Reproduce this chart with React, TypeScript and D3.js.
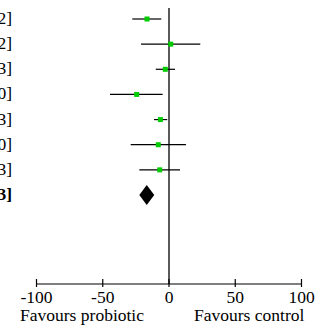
import React from 'react';
import * as d3 from 'd3';

// study rows (mean difference with 95% CI), last row is the pooled estimate
const labels = [
  '-16.60 [-27.70, -5.82]',
  '1.30 [-21.10, 23.62]',
  '-2.80 [-10.00, 4.53]',
  '-24.40 [-44.50, -4.80]',
  '-6.50 [-11.30, -1.33]',
  '-8.10 [-28.90, 12.80]',
  '-7.00 [-22.40, 8.33]',
];
const means = [-16.6, 1.3, -2.8, -24.4, -6.5, -8.1, -7.0];
const lower = [-27.7, -21.1, -10.0, -44.5, -11.3, -28.9, -22.4];
const upper = [-5.82, 23.62, 4.53, -4.8, -1.33, 12.8, 8.33];

const pooledLabel = '-16.80 [-22.40, -11.13]';
const pooled = { mean: -16.8, lower: -22.4, upper: -11.13 };

const ticks = [-100, -50, 0, 50, 100];

const W = 323;
const H = 331;
const FONT = 'Liberation Serif';

export default function App() {
  const x = d3.scaleLinear().domain([-100, 100]).range([36.5, 301.5]);
  const rows = d3.range(labels.length + 1);
  const y = d3.scalePoint<number>().domain(rows).range([19, 195]);
  const axisY = 284;
  const diamondH = 10;

  const diamond = d3.line()([
    [x(pooled.lower), y(labels.length)!],
    [x(pooled.mean), y(labels.length)! - diamondH],
    [x(pooled.upper), y(labels.length)!],
    [x(pooled.mean), y(labels.length)! + diamondH],
  ]) + 'Z';

  return (
    <svg
      width={W}
      height={H}
      style={{ position: 'absolute', left: 0, top: 0, background: '#fff', fontFamily: FONT, fontSize: 17.5 }}
    >
      {/* no-effect line */}
      <line x1={x(0)} x2={x(0)} y1={8} y2={axisY} stroke="#000" strokeWidth={1.3} />

      {/* study rows */}
      {means.map((m, i) => (
        <g key={i}>
          <text x={12} y={y(i)! + 5} textAnchor="end" fontFamily={FONT}>
            {labels[i]}
          </text>
          <line x1={x(lower[i])} x2={x(upper[i])} y1={y(i)} y2={y(i)} stroke="#000" strokeWidth={1.2} />
          <rect x={x(m) - 2.5} y={y(i)! - 2.5} width={5} height={5} fill="#00cc00" />
        </g>
      ))}

      {/* pooled */}
      <text x={12} y={y(labels.length)! + 5} textAnchor="end" fontFamily={FONT} fontWeight="bold">
        {pooledLabel}
      </text>
      <path d={diamond} fill="#000" />

      {/* axis */}
      <line x1={x(-100)} x2={x(100)} y1={axisY} y2={axisY} stroke="#000" strokeWidth={1.2} />
      {ticks.map((t) => (
        <g key={t}>
          <line x1={x(t)} x2={x(t)} y1={axisY - 5} y2={axisY + 3} stroke="#000" strokeWidth={1.2} />
          <text x={x(t)} y={303} textAnchor="middle" fontFamily={FONT}>
            {t}
          </text>
        </g>
      ))}
      <text x={x(0) - 25} y={321} textAnchor="end" fontFamily={FONT}>
        Favours probiotic
      </text>
      <text x={x(0) + 25} y={321} textAnchor="start" fontFamily={FONT}>
        Favours control
      </text>
    </svg>
  );
}
